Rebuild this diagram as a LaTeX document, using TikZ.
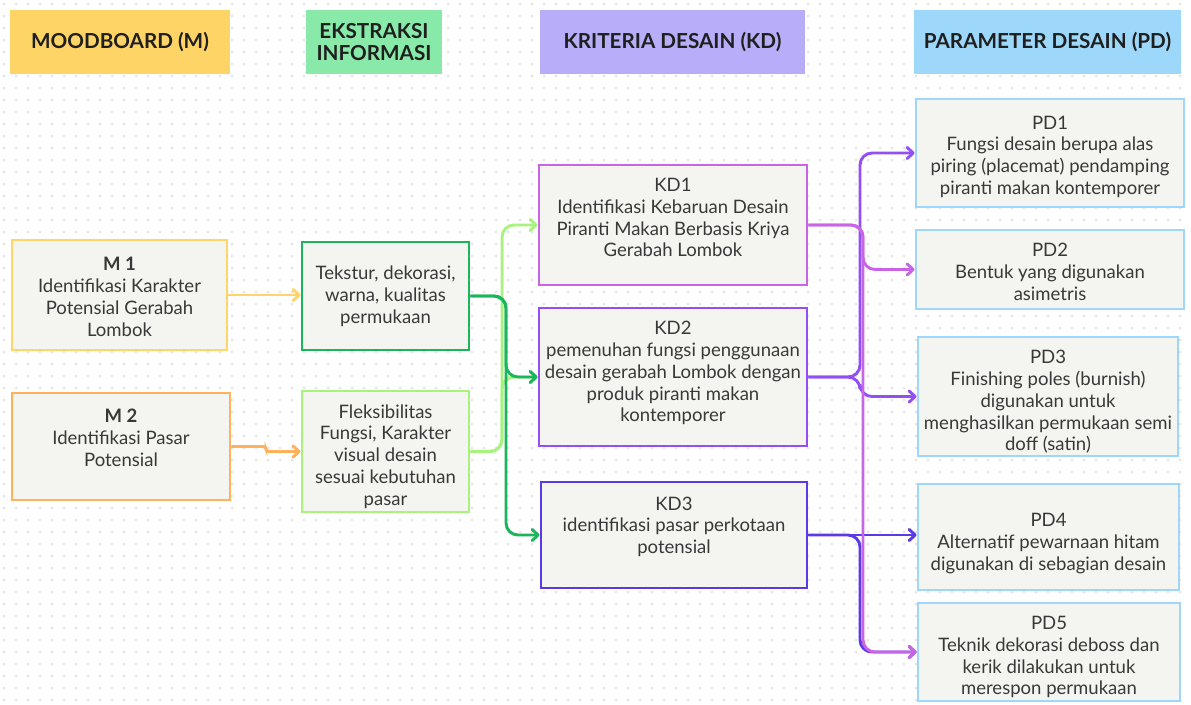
\documentclass[tikz,border=0pt]{standalone}
\usepackage{fontspec}
\setmainfont{Lato}
\usetikzlibrary{arrows.meta,positioning,fit}

\definecolor{hM}{HTML}{FFD466}
\definecolor{hE}{HTML}{88E9A8}
\definecolor{hK}{HTML}{B8ADF8}
\definecolor{hP}{HTML}{9DD8FB}
\definecolor{cM1}{HTML}{FFD46B}
\definecolor{cM2}{HTML}{FFB25C}
\definecolor{cE1}{HTML}{1BB55C}
\definecolor{cE2}{HTML}{A8F27E}
\definecolor{cK1}{HTML}{C965E4}
\definecolor{cK2}{HTML}{9250F4}
\definecolor{cK3}{HTML}{5B39E6}
\definecolor{cP}{HTML}{9ED7FB}
\definecolor{boxfill}{HTML}{F4F4F0}
\definecolor{txt}{HTML}{383838}
\definecolor{dotc}{HTML}{E3E3E3}

\tikzset{
  head/.style={fill=#1, inner sep=0pt},
  headtext/.style={align=center, inner sep=0pt, text=black!88,
    font=\fontsize{15.5}{16.5}\selectfont\bfseries},
  card/.style={draw=#1, line width=2.2pt, fill=boxfill, inner sep=0pt},
  cardtext/.style={align=center, inner sep=0pt, text=txt,
    font=\fontsize{13.9}{16.3}\selectfont},
  link/.style={draw=#1, line width=2.2pt, rounded corners=9pt,
    -{Straight Barb[length=4.5pt,width=8.5pt,round]}},
}

% name, colour, corners, text offset, text
\newcommand{\infocard}[5]{%
  \node[card=#2, fit={#3}] (#1) {};
  \node[cardtext, below=#4 of #1.north] (#1-txt) {#5};
}
% name, colour, corners, text
\newcommand{\colhead}[4]{%
  \node[head=#2, fit={#3}] (#1) {};
  \node[headtext] (#1-txt) at (#1.center) {#4};
}

\begin{document}
\begin{tikzpicture}[x=.75pt,y=-.75pt]
  \fill[white] (0,0) rectangle (1191,704);
  \useasboundingbox (0,0) rectangle (1191,704);
  % dot grid
  \fill[dotc] \foreach \x in {4,16,...,1190} {\foreach \y in {4,16,...,703} {(\x-1,\y-1) rectangle ++(2,2)}};

  % column heads
  \colhead{hm}{hM}{(10,10) (230,74)}{MOODBOARD (M)}
  \colhead{he}{hE}{(306,10) (442,74)}{EKSTRAKSI\\INFORMASI}
  \colhead{hk}{hK}{(540,10) (805,74)}{KRITERIA DESAIN (KD)}
  \colhead{hp}{hP}{(914,10) (1181,74)}{PARAMETER DESAIN (PD)}

  % moodboard
  \infocard{m1}{cM1}{(12,240) (227,350)}{14pt}{\textbf{M 1}\\Identifikasi Karakter\\Potensial Gerabah\\Lombok}
  \infocard{m2}{cM2}{(12,393) (230,500)}{13pt}{\textbf{M 2}\\Identifikasi Pasar\\Potensial}

  % ekstraksi
  \infocard{e1}{cE1}{(302,242) (469,350)}{19pt}{Tekstur, dekorasi,\\warna, kualitas\\permukaan}
  \infocard{e2}{cE2}{(302,391) (469,512)}{11pt}{Fleksibilitas\\Fungsi, Karakter\\visual desain\\sesuai kebutuhan\\pasar}

  % kriteria
  \infocard{kd1}{cK1}{(539,165) (807,285)}{11pt}{KD1\\Identifikasi Kebaruan Desain\\Piranti Makan Berbasis Kriya\\Gerabah Lombok}
  \infocard{kd2}{cK2}{(539,308) (807,446)}{11pt}{KD2\\pemenuhan fungsi penggunaan\\desain gerabah Lombok dengan\\produk piranti makan\\kontemporer}
  \infocard{kd3}{cK3}{(541,482) (807,588)}{12pt}{KD3\\identifikasi pasar perkotaan\\potensial}

  % parameter
  \infocard{pd1}{cP}{(916,99) (1184,207)}{13.5pt}{PD1\\Fungsi desain berupa alas\\piring (placemat) pendamping\\piranti makan kontemporer}
  \infocard{pd2}{cP}{(916,230) (1184,309)}{11pt}{PD2\\Bentuk yang digunakan\\asimetris}
  \infocard{pd3}{cP}{(918,337) (1178,456)}{11pt}{PD3\\Finishing poles (burnish)\\digunakan untuk\\menghasilkan permukaan semi\\doff (satin)}
  \infocard{pd4}{cP}{(918,484) (1179,590)}{23pt}{PD4\\Alternatif pewarnaan hitam\\digunakan di sebagian desain}
  \infocard{pd5}{cP}{(918,603) (1180,701)}{11pt}{PD5\\Teknik dekorasi deboss dan\\kerik dilakukan untuk\\merespon permukaan}

  % bus lines
  \coordinate (mstep) at (266,0);
  \coordinate (lbusA) at (502,0);
  \coordinate (lbusB) at (506,0);
  \coordinate (rbusA) at (860,0);
  \coordinate (rbusB) at (863,0);

  \draw[link=cM1] (m1.east) -- (m1.east -| e1.west);
  \draw[link=cM2, rounded corners=2pt] (m2.east) -- (m2.east -| mstep) |- (e2.west);

  \draw[link=cE2] (e2.east) -- (e2.east -| lbusA) |- (kd1.west);
  \draw[link=cE2] (e2.east) -- (e2.east -| lbusA) |- (kd2.west);
  \draw[link=cE1] (e1.east) -- (e1.east -| lbusB) |- (kd2.west);
  \draw[link=cE1] (e1.east) -- (e1.east -| lbusB) |- (kd3.west);

  \draw[link=cK3] (kd3.east) -- (kd3.east -| pd4.west);
  \draw[link=cK3] (kd3.east) -- (kd3.east -| rbusA) |- (pd5.west);
  \draw[link=cK2] (kd2.east) -- (kd2.east -| rbusA) |- (pd1.west);
  \draw[link=cK2] (kd2.east) -- (kd2.east -| rbusA) |- (pd3.west);
  \draw[link=cK1] (kd1.east) -- (kd1.east -| rbusB) |- (pd2.west);
  \draw[link=cK1] (kd1.east) -- (kd1.east -| rbusB) |- (pd5.west);
\end{tikzpicture}
\end{document}
